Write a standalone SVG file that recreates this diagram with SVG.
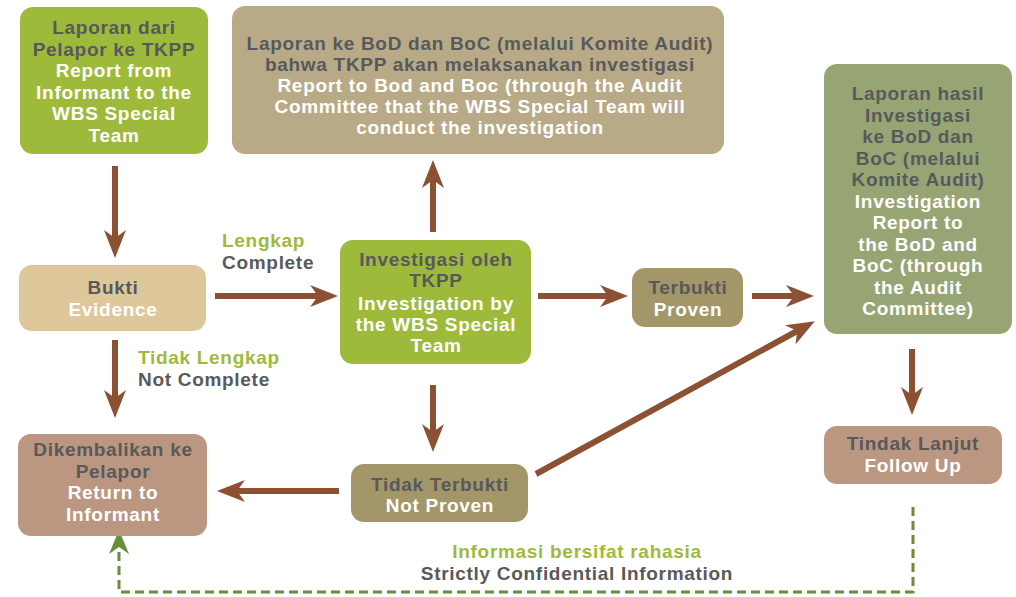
<svg xmlns="http://www.w3.org/2000/svg" width="1016" height="597" viewBox="0 0 1016 597">
<defs>
<style>
text{font-family:"Liberation Sans",Arial,sans-serif;font-weight:bold;font-size:19px;letter-spacing:0.7px;text-anchor:middle}
.d{fill:#58595b}
.w{fill:#ffffff}
.g{fill:#9dba3a}
.l{text-anchor:start}
.ar{stroke:#8c5133;stroke-width:6;fill:none}
.ds{stroke:#6b8c3a;stroke-width:3;fill:none;stroke-dasharray:9 5}
</style>
<marker id="ah" markerUnits="userSpaceOnUse" markerWidth="28" markerHeight="22" refX="10" refY="11" orient="auto" viewBox="0 0 28 22">
<path d="M0,0 L28,11 L0,22 L8,11 z" fill="#8c5133"/>
</marker>
<marker id="gh" markerUnits="userSpaceOnUse" markerWidth="24" markerHeight="20" refX="8" refY="10" orient="auto" viewBox="0 0 24 20">
<path d="M0,0 L24,10 L0,20 L7,10 z" fill="#6b8c3a"/>
</marker>
</defs>
<rect width="1016" height="597" fill="#ffffff"/>

<g id="connectors">
<line class="ar" x1="115" y1="166" x2="115" y2="240" marker-end="url(#ah)"/>
<line class="ar" x1="215" y1="296" x2="320" y2="296" marker-end="url(#ah)"/>
<line class="ar" x1="115" y1="340" x2="115" y2="400" marker-end="url(#ah)"/>
<line class="ar" x1="433" y1="232" x2="433" y2="178" marker-end="url(#ah)"/>
<line class="ar" x1="433" y1="385" x2="433" y2="434" marker-end="url(#ah)"/>
<line class="ar" x1="538" y1="296" x2="610" y2="296" marker-end="url(#ah)"/>
<line class="ar" x1="752" y1="296" x2="796" y2="296" marker-end="url(#ah)"/>
<line class="ar" x1="536" y1="474" x2="799" y2="330" marker-end="url(#ah)"/>
<line class="ar" x1="339" y1="491" x2="235" y2="491" marker-end="url(#ah)"/>
<line class="ar" x1="912" y1="349" x2="912" y2="397" marker-end="url(#ah)"/>
<path class="ds" d="M913,507 V592 H119 V546" marker-end="url(#gh)"/>
</g>

<g id="n-laporan">
<rect x="20" y="7" width="188" height="147" rx="13" fill="#9dba3a"/>
<text x="114" y="34" class="d">Laporan dari</text>
<text x="114" y="55.5" class="d">Pelapor ke TKPP</text>
<text x="114" y="77" class="w">Report from</text>
<text x="114" y="98.5" class="w">Informant to the</text>
<text x="114" y="120" class="w">WBS Special</text>
<text x="114" y="141.5" class="w">Team</text>
</g>

<g id="n-laporan-bod">
<rect x="232" y="6" width="492" height="148" rx="13" fill="#b8aa87"/>
<text x="480" y="50" class="d">Laporan ke BoD dan BoC (melalui Komite Audit)</text>
<text x="480" y="71" class="d">bahwa TKPP akan melaksanakan investigasi</text>
<text x="480" y="92" class="w">Report to Bod and Boc (through the Audit</text>
<text x="480" y="113" class="w">Committee that the WBS Special Team will</text>
<text x="480" y="134" class="w">conduct the investigation</text>
</g>

<g id="n-hasil">
<rect x="824" y="64" width="188" height="270" rx="13" fill="#97a574"/>
<text x="918" y="100" class="d">Laporan hasil</text>
<text x="918" y="121.5" class="d">Investigasi</text>
<text x="918" y="143" class="d">ke BoD dan</text>
<text x="918" y="164.5" class="d">BoC (melalui</text>
<text x="918" y="186" class="d">Komite Audit)</text>
<text x="918" y="207.5" class="w">Investigation</text>
<text x="918" y="229" class="w">Report to</text>
<text x="918" y="250.5" class="w">the BoD and</text>
<text x="918" y="272" class="w">BoC (through</text>
<text x="918" y="293.5" class="w">the Audit</text>
<text x="918" y="315" class="w">Committee)</text>
</g>

<g id="n-bukti">
<rect x="19" y="265" width="187" height="66" rx="13" fill="#dec89b"/>
<text x="113" y="294" class="d">Bukti</text>
<text x="113" y="315.5" class="w">Evidence</text>
</g>

<g id="n-investigasi">
<rect x="340" y="240" width="191" height="124" rx="13" fill="#9dba3a"/>
<text x="436" y="266" class="d">Investigasi oleh</text>
<text x="436" y="287" class="d">TKPP</text>
<text x="436" y="310" class="w">Investigation by</text>
<text x="436" y="331" class="w">the WBS Special</text>
<text x="436" y="352" class="w">Team</text>
</g>

<g id="n-terbukti">
<rect x="632" y="268" width="111" height="59" rx="13" fill="#a39669"/>
<text x="688" y="294" class="d">Terbukti</text>
<text x="688" y="315.5" class="w">Proven</text>
</g>

<g id="n-tidak-terbukti">
<rect x="351" y="464" width="177" height="58" rx="13" fill="#a39669"/>
<text x="440" y="491" class="d">Tidak Terbukti</text>
<text x="440" y="512" class="w">Not Proven</text>
</g>

<g id="n-dikembalikan">
<rect x="18" y="434" width="189" height="102" rx="13" fill="#bb9781"/>
<text x="113" y="456" class="d">Dikembalikan ke</text>
<text x="113" y="477.5" class="d">Pelapor</text>
<text x="113" y="499" class="w">Return to</text>
<text x="113" y="520.5" class="w">Informant</text>
</g>

<g id="n-tindak-lanjut">
<rect x="824" y="426" width="178" height="58" rx="13" fill="#bb9781"/>
<text x="913" y="450" class="d">Tindak Lanjut</text>
<text x="913" y="471.5" class="w">Follow Up</text>
</g>

<g id="labels">
<text x="222" y="247" class="g l">Lengkap</text>
<text x="222" y="269" class="d l">Complete</text>
<text x="138" y="364" class="g l">Tidak Lengkap</text>
<text x="138" y="386" class="d l">Not Complete</text>
<text x="577" y="558" class="g">Informasi bersifat rahasia</text>
<text x="577" y="580" class="d">Strictly Confidential Information</text>
</g>
</svg>
